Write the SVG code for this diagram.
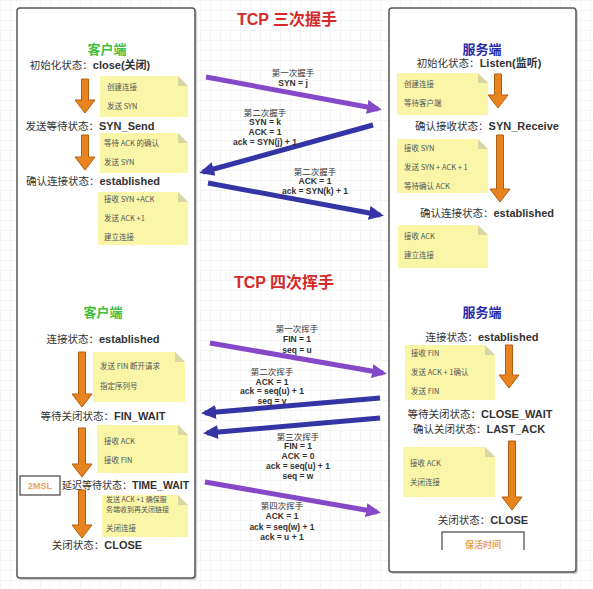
<svg xmlns="http://www.w3.org/2000/svg" width="593" height="589" viewBox="0 0 593 589">
<style>
.panel{fill:#fff;stroke:#555;stroke-width:1.5}
.shadow{fill:#d0d0d0}
.title{font-family:"Liberation Sans","Noto Sans CJK SC",sans-serif;font-weight:bold;font-size:16px;fill:#d42a2a}
.client{font-family:"Noto Sans CJK SC",sans-serif;font-weight:bold;font-size:13px;fill:#3fbf3f}
.server{font-family:"Noto Sans CJK SC",sans-serif;font-weight:bold;font-size:13px;fill:#2a2aa8}
.state{font-family:"Noto Sans CJK SC",sans-serif;font-size:10.5px;fill:#333}
.state tspan{font-family:"Liberation Sans","Noto Sans CJK SC",sans-serif;font-weight:bold;font-size:11px}
.note{fill:#f9f6a8}
.fold{fill:#d9d6a6}
.nt{font-family:"Noto Sans CJK SC",sans-serif;font-size:7.5px;fill:#555}
.lbl{font-family:"Noto Sans CJK SC",sans-serif;font-size:8.5px;fill:#333;text-anchor:middle}
.lb{font-family:"Liberation Sans","Noto Sans CJK SC",sans-serif;font-weight:bold;font-size:8.5px;fill:#333;text-anchor:middle}
.oa{fill:#e8841f;stroke:#b25c10;stroke-width:1}
.pu{stroke:#8448c8;stroke-width:5;fill:none;marker-end:url(#hp)}
.bl{stroke:#3434a6;stroke-width:5;fill:none;marker-end:url(#hb)}
.mid{text-anchor:middle}
.box{fill:#fff;stroke:#444;stroke-width:1.2}
.bt{font-family:"Liberation Sans","Noto Sans CJK SC",sans-serif;font-weight:bold;font-size:9px;fill:#eaa25a;text-anchor:middle}
</style>
<defs>
<pattern id="grid" width="10" height="10" patternUnits="userSpaceOnUse">
<path d="M10 0H0V10" fill="none" stroke="#ececec" stroke-width="1"/>
</pattern>
<marker id="hp" markerUnits="userSpaceOnUse" markerWidth="16" markerHeight="16" refX="11" refY="8" orient="auto">
<path d="M0,1 L15,8 L0,15 z" fill="#8448c8"/>
</marker>
<marker id="hb" markerUnits="userSpaceOnUse" markerWidth="16" markerHeight="16" refX="11" refY="8" orient="auto">
<path d="M0,1 L15,8 L0,15 z" fill="#3434a6"/>
</marker>
</defs>
<rect width="593" height="589" fill="#fff"/>
<rect width="593" height="589" fill="url(#grid)"/>

<g id="title-handshake"><text class="title mid" x="287" y="25">TCP 三次握手</text></g>
<g id="title-wave"><text class="title mid" x="284" y="288">TCP 四次挥手</text></g>

<g id="client-panel">
<rect class="shadow" x="19" y="10" width="178" height="570" rx="3"/>
<rect class="panel" x="17" y="8" width="178" height="570" rx="3"/>
</g>
<g id="server-panel">
<rect class="shadow" x="391" y="10" width="187" height="564" rx="3"/>
<rect class="panel" x="389" y="8" width="187" height="564" rx="3"/>
</g>

<!-- client top -->
<g id="client-title-1"><text class="client mid" x="107" y="54">客户端</text></g>
<g id="c-close"><text class="state mid" x="90" y="69">初始化状态：<tspan>close(关闭)</tspan></text></g>
<g id="c-note1">
<path class="note" d="M100 76H178L188 86V117H100z"/><path class="fold" d="M178 76L188 86H178z"/>
<text class="nt" x="107" y="90">创建连接</text><text class="nt" x="107" y="109">发送 SYN</text>
</g>
<g id="c-synsend"><text class="state mid" x="90" y="130">发送等待状态：<tspan>SYN_Send</tspan></text></g>
<g id="c-note2">
<path class="note" d="M100 133H178L188 143V173H100z"/><path class="fold" d="M178 133L188 143H178z"/>
<text class="nt" x="104" y="146">等待 ACK 的确认</text><text class="nt" x="104" y="165">发送 SYN</text>
</g>
<g id="c-established"><text class="state mid" x="93" y="185">确认连接状态：<tspan>established</tspan></text></g>
<g id="c-note3">
<path class="note" d="M98 192H178L188 202V245H98z"/><path class="fold" d="M178 192L188 202H178z"/>
<text class="nt" x="104" y="202">接收 SYN +ACK</text><text class="nt" x="104" y="221">发送 ACK +1</text><text class="nt" x="104" y="240">建立连接</text>
</g>

<!-- server top -->
<g id="server-title-1"><text class="server mid" x="482" y="54">服务端</text></g>
<g id="s-listen"><text class="state mid" x="479" y="67">初始化状态：<tspan>Listen(监听)</tspan></text></g>
<g id="s-note1">
<path class="note" d="M397 73H478L488 83V115H397z"/><path class="fold" d="M478 73L488 83H478z"/>
<text class="nt" x="404" y="87">创建连接</text><text class="nt" x="404" y="106">等待客户端</text>
</g>
<g id="s-synreceive"><text class="state mid" x="487" y="130">确认接收状态：<tspan>SYN_Receive</tspan></text></g>
<g id="s-note2">
<path class="note" d="M397 139H478L488 149V193H397z"/><path class="fold" d="M478 139L488 149H478z"/>
<text class="nt" x="404" y="151">接收 SYN</text><text class="nt" x="404" y="170">发送 SYN + ACK + 1</text><text class="nt" x="404" y="189">等待确认 ACK</text>
</g>
<g id="s-established"><text class="state mid" x="487" y="217">确认连接状态：<tspan>established</tspan></text></g>
<g id="s-note3">
<path class="note" d="M398 225H478L488 235V268H398z"/><path class="fold" d="M478 225L488 235H478z"/>
<text class="nt" x="404" y="239">接收 ACK</text><text class="nt" x="404" y="258">建立连接</text>
</g>

<!-- client bottom -->
<g id="client-title-2"><text class="client mid" x="103" y="317">客户端</text></g>
<g id="c2-established"><text class="state mid" x="103" y="343">连接状态：<tspan>established</tspan></text></g>
<g id="c2-note1">
<path class="note" d="M93 352H175L185 362V402H93z"/><path class="fold" d="M175 352L185 362H175z"/>
<text class="nt" x="100" y="369">发送 FIN 断开请求</text><text class="nt" x="100" y="389">指定序列号</text>
</g>
<g id="c2-finwait"><text class="state mid" x="103" y="420">等待关闭状态：<tspan>FIN_WAIT</tspan></text></g>
<g id="c2-note2">
<path class="note" d="M97 425H178L188 435V473H97z"/><path class="fold" d="M178 425L188 435H178z"/>
<text class="nt" x="104" y="444">接收 ACK</text><text class="nt" x="104" y="463">接收 FIN</text>
</g>
<g id="c2-2msl"><rect class="box" x="20" y="476" width="40" height="19"/><text class="bt" x="40" y="489">2MSL</text></g>
<g id="c2-timewait"><text class="state" x="62" y="489" style="font-size:10px">延迟等待状态：<tspan style="font-size:10.5px">TIME_WAIT</tspan></text></g>
<g id="c2-note3">
<path class="note" d="M102 495H178L188 505V537H102z"/><path class="fold" d="M178 495L188 505H178z"/>
<text class="nt" x="106" y="502" style="font-size:7px">发送 ACK +1 确保服</text><text class="nt" x="106" y="512" style="font-size:7px">务端收到再关闭链接</text><text class="nt" x="106" y="531">关闭连接</text>
</g>
<g id="c2-close"><text class="state mid" x="97" y="549">关闭状态：<tspan>CLOSE</tspan></text></g>

<!-- server bottom -->
<g id="server-title-2"><text class="server mid" x="482" y="317">服务端</text></g>
<g id="s2-established"><text class="state mid" x="482" y="341">连接状态：<tspan>established</tspan></text></g>
<g id="s2-note1">
<path class="note" d="M405 345H485L495 355V400H405z"/><path class="fold" d="M485 345L495 355H485z"/>
<text class="nt" x="411" y="356">接收 FIN</text><text class="nt" x="411" y="375">发送 ACK + 1确认</text><text class="nt" x="411" y="394">发送 FIN</text>
</g>
<g id="s2-closewait"><text class="state mid" x="480" y="418">等待关闭状态：<tspan>CLOSE_WAIT</tspan></text></g>
<g id="s2-lastack"><text class="state mid" x="479" y="433">确认关闭状态：<tspan>LAST_ACK</tspan></text></g>
<g id="s2-note2">
<path class="note" d="M403 447H485L495 457V497H403z"/><path class="fold" d="M485 447L495 457H485z"/>
<text class="nt" x="410" y="466">接收 ACK</text><text class="nt" x="410" y="485">关闭连接</text>
</g>
<g id="s2-close"><text class="state mid" x="483" y="524">关闭状态：<tspan>CLOSE</tspan></text></g>
<g id="s2-keepalive"><rect class="box" x="442" y="532" width="82" height="26"/><text class="bt" x="483" y="548">保活时间</text></g>
<rect x="430" y="550" width="140" height="16" fill="#fff"/>

<g id="connectors">
<polygon class="oa" points="81.5,79 88.5,79 88.5,100 95,100 85,113 75,100 81.5,100"/>
<polygon class="oa" points="81.5,135 88.5,135 88.5,157 95,157 85,170 75,157 81.5,157"/>
<polygon class="oa" points="494.5,74 501.5,74 501.5,95 508,95 498,108 488,95 494.5,95"/>
<polygon class="oa" points="496.5,135 503.5,135 503.5,189 510,189 500,202 490,189 496.5,189"/>
<polygon class="oa" points="78.5,352 85.5,352 85.5,394 92,394 82,407 72,394 78.5,394"/>
<polygon class="oa" points="78.5,428 85.5,428 85.5,464 92,464 82,477 72,464 78.5,464"/>
<polygon class="oa" points="78.5,490 85.5,490 85.5,525 92,525 82,538 72,525 78.5,525"/>
<polygon class="oa" points="505.5,345 512.5,345 512.5,375 519,375 509,388 499,375 505.5,375"/>
<polygon class="oa" points="508.5,441 515.5,441 515.5,497 522,497 512,510 502,497 508.5,497"/>

<line class="pu" x1="206" y1="77" x2="378" y2="109"/>
<line class="bl" x1="373" y1="125" x2="203" y2="172"/>
<line class="bl" x1="208" y1="183" x2="380" y2="215"/>
<line class="pu" x1="210" y1="343" x2="383" y2="373"/>
<line class="bl" x1="380" y1="398" x2="205" y2="413"/>
<line class="bl" x1="380" y1="418" x2="207" y2="433"/>
<line class="pu" x1="205" y1="482" x2="377" y2="512"/>
</g>

<g id="label-h1"><text class="lbl" x="293" y="76">第一次握手</text><text class="lb" x="293" y="86">SYN = j</text></g>
<g id="label-h2"><text class="lbl" x="265" y="116">第二次握手</text><text class="lb" x="265" y="125">SYN = k</text><text class="lb" x="265" y="135">ACK = 1</text><text class="lb" x="265" y="145">ack = SYN(j) + 1</text></g>
<g id="label-h3"><text class="lbl" x="315" y="175">第二次握手</text><text class="lb" x="315" y="184">ACK = 1</text><text class="lb" x="315" y="194">ack = SYN(k) + 1</text></g>
<g id="label-w1"><text class="lbl" x="297" y="332">第一次挥手</text><text class="lb" x="297" y="342">FIN = 1</text><text class="lb" x="297" y="353">seq = u</text></g>
<g id="label-w2"><text class="lbl" x="272" y="375">第二次挥手</text><text class="lb" x="272" y="385">ACK = 1</text><text class="lb" x="272" y="394">ack = seq(u) + 1</text><text class="lb" x="272" y="404">seq = v</text></g>
<g id="label-w3"><text class="lbl" x="298" y="440">第三次挥手</text><text class="lb" x="298" y="449">FIN = 1</text><text class="lb" x="298" y="459">ACK = 0</text><text class="lb" x="298" y="469">ack = seq(u) + 1</text><text class="lb" x="298" y="479">seq = w</text></g>
<g id="label-w4"><text class="lbl" x="282" y="509">第四次挥手</text><text class="lb" x="282" y="519">ACK = 1</text><text class="lb" x="282" y="530">ack = seq(w) + 1</text><text class="lb" x="282" y="540">ack = u + 1</text></g>
</svg>
